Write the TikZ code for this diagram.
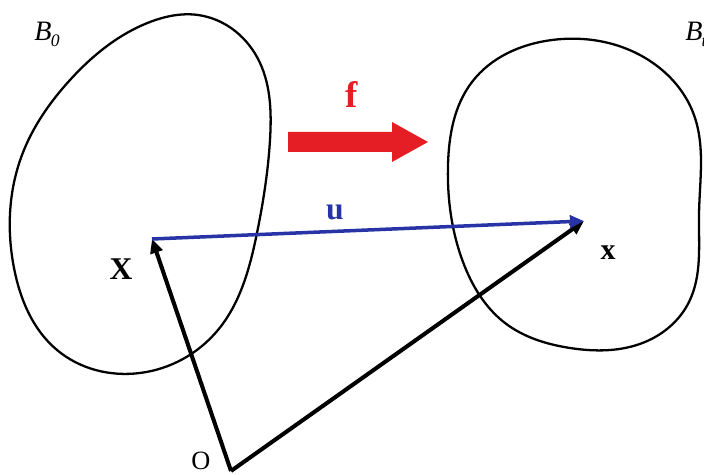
\documentclass[tikz,border=0pt]{standalone}
\usepackage{fontspec}
\setmainfont{Liberation Serif}
\usepackage{xcolor}
\usetikzlibrary{arrows.meta, positioning, calc, hobby}

\definecolor{maproj}{RGB}{228,30,36}
\definecolor{dispblue}{RGB}{40,52,165}

% body name with a subscript, in text italics
\newcommand{\bodyname}[1]{\textit{B}\kern-0.5pt\raisebox{-0.45ex}{\fontsize{10}{10}\selectfont\textit{#1}}}

\begin{document}
\begin{tikzpicture}[
    x=0.02cm, y=-0.02cm,
    body/.style={draw, line width=1.3pt, use Hobby shortcut, closed=true},
    posvec/.style={-{Triangle[length=8pt, width=7pt]}, line width=2.3pt},
    disp/.style={-{Triangle[length=8pt, width=7pt]}, line width=2pt, draw=dispblue, fill=dispblue},
    lbl/.style={inner sep=0pt, font=\fontsize{18}{20}\selectfont}
]
\useasboundingbox (0,0) rectangle (704,475);

% Reference and current bodies
\draw[body] (198,15) .. (257,57) .. (270,140) .. (257,233) .. (218,330) .. (140,373)
    .. (57,350) .. (14,268) .. (22,155) .. (70,80) .. (150,22);
\draw[body] (552,40) .. (653,63) .. (694,115) .. (699,215) .. (689,302) .. (645,342)
    .. (570,348) .. (505,323) .. (463,262) .. (448,165) .. (472,82);

% Points
\coordinate (origin) at (231,471);
\coordinate (refpt) at (152,239);
\coordinate (curpt) at (584,221);

% Labels
\node[lbl, font=\fontsize{16}{18}\selectfont] (b0) at (47,34) {\bodyname{0}};
\node[lbl, font=\fontsize{16}{18}\selectfont, anchor=west] (bt) at (685,34) {\bodyname{t}};
\node[lbl] (bigX) at (121,269) {\textbf{X}};
\node[lbl, font=\fontsize{17}{19}\selectfont] (smallx) at (608,253) {\textbf{x}};
\node[lbl, text=dispblue] (ulbl) at (335,212) {\textbf{u}};
\node[lbl, text=maproj, font=\fontsize{21}{23}\selectfont] (flbl) at (352,95) {\textbf{f}};
\node[lbl, font=\fontsize{15}{17}\selectfont] (olbl) at (201,461) {O};

% Mapping arrow
\fill[maproj] (288,132) -- (392,132) -- (392,122) -- (428,142) -- (392,162)
    -- (392,152) -- (288,152) -- cycle;

% Position and displacement vectors
\draw[posvec] (origin) -- (refpt);
\draw[posvec] (origin) -- (curpt);
\draw[disp] (refpt) -- (curpt);
\end{tikzpicture}
\end{document}
